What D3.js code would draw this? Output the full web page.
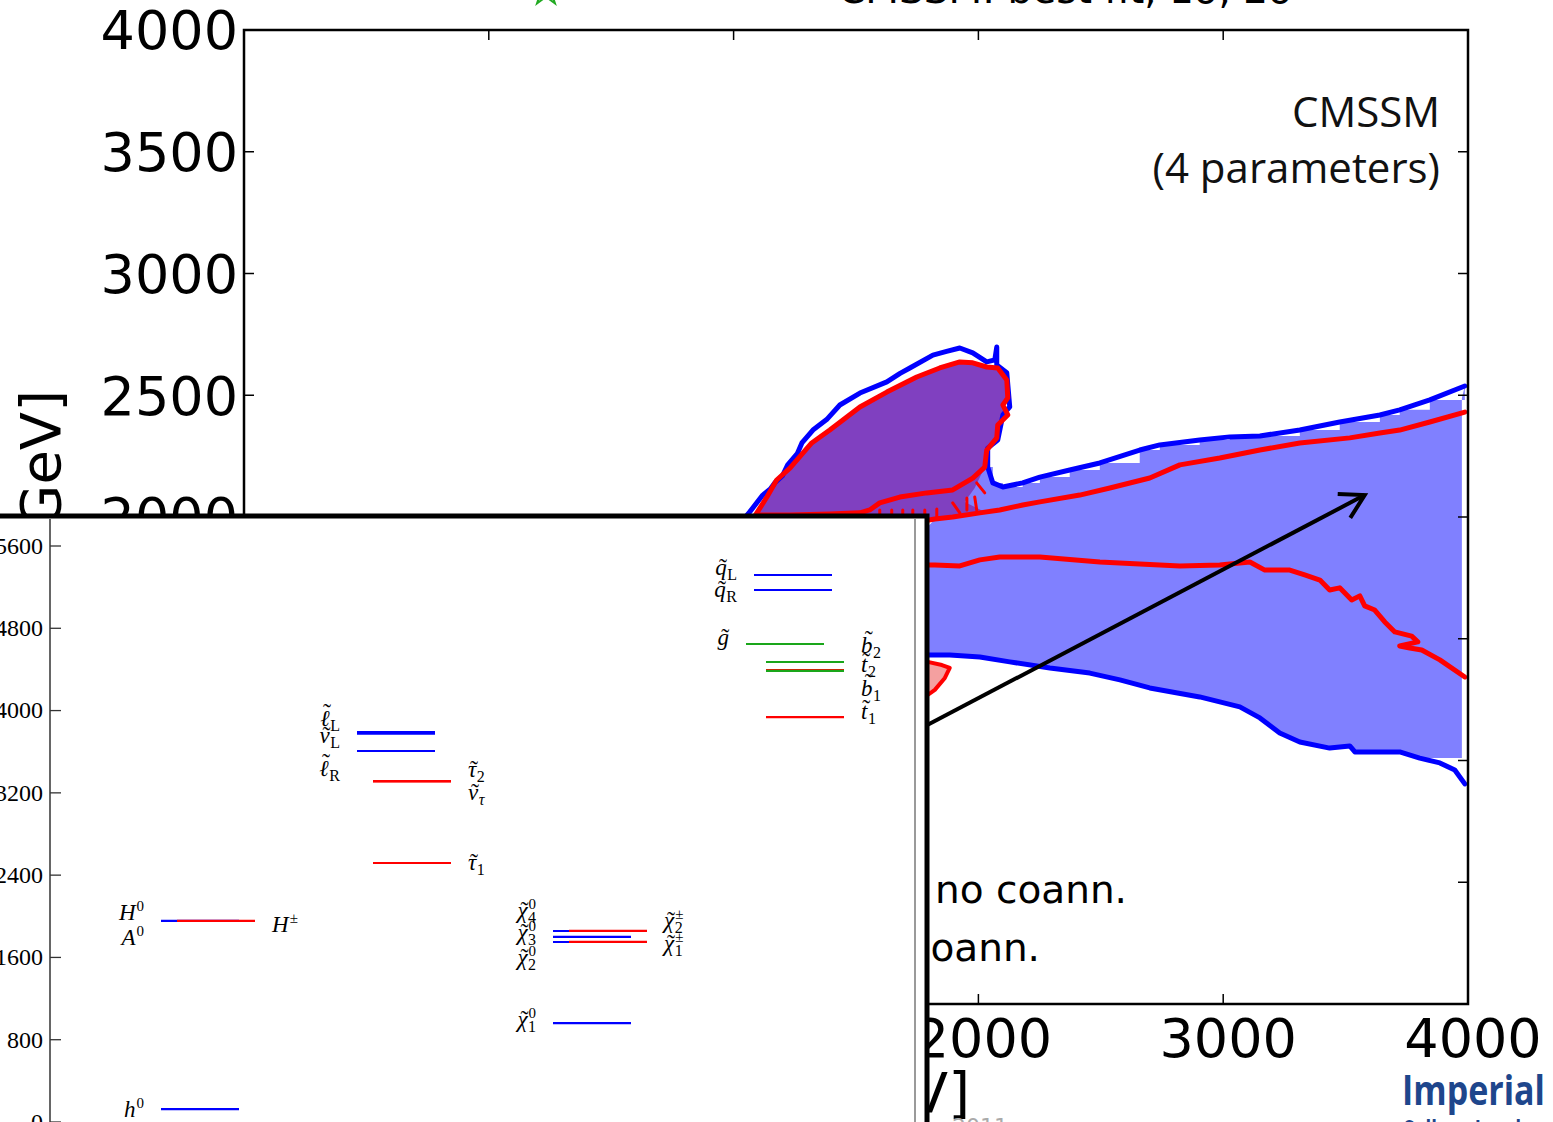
<!DOCTYPE html>
<html><head><meta charset="utf-8">
<script src="https://cdn.jsdelivr.net/npm/d3@7"></script>
<style>body{margin:0;background:#fff;overflow:hidden} svg{display:block}</style>
</head><body>
<svg id="c" width="1553" height="1122"></svg>
<script>
// ---------------- DATA (main plot, m0 / m1/2 in GeV) ----------------
const m0Ticks = [-1000, 0, 1000, 2000, 3000, 4000];
const m12Ticks = [0, 500, 1000, 1500, 2000, 2500, 3000, 3500, 4000];

// 2-sigma (blue) contour, upper branch incl. focus-point blob
const blueUp = [[944,1865],[1005,1947],[1066,2021],[1119,2090],[1150,2115],[1168,2140],[1200,2170],[1221,2214],[1260,2260],[1279,2304],[1324,2357],[1380,2400],[1434,2460],[1516,2509],[1626,2555],[1680,2590],[1720,2612],[1814,2665],[1870,2680],[1924,2694],[1977,2674],[2034,2637],[2067,2645],[2075,2698],[2075,2624],[2116,2592],[2128,2452],[2100,2419],[2079,2316],[2038,2283],[2038,2205],[2059,2140],[2100,2123],[2181,2140],[2251,2164],[2373,2193],[2496,2222],[2659,2275],[2741,2296],[2904,2316],[3027,2329],[3150,2333],[3313,2357],[3476,2390],[3640,2419],[3721,2440],[3844,2481],[3987,2538]];
// 2-sigma (blue) contour, lower branch
const blueLow = [[1761,1433],[1883,1433],[2006,1425],[2128,1405],[2292,1380],[2455,1359],[2578,1331],[2700,1298],[2904,1261],[3068,1220],[3150,1175],[3231,1113],[3313,1076],[3435,1051],[3517,1060],[3538,1035],[3721,1035],[3803,1010],[3885,990],[3946,961],[3987,904]];
// 1-sigma (red) contour around the blob
const redBlob = [[1025,1906],[1095,2017],[1136,2082],[1176,2152],[1230,2201],[1319,2304],[1393,2357],[1516,2452],[1626,2513],[1748,2575],[1842,2612],[1924,2637],[1977,2633],[2034,2616],[2079,2612],[2116,2563],[2120,2489],[2100,2460],[2120,2419],[2079,2378],[2075,2325],[2034,2275],[2026,2205],[1977,2160],[1895,2111],[1789,2099],[1679,2082],[1597,2058],[1556,2029],[1516,2017],[1393,2012],[1230,2008],[1095,2008]];
// 1-sigma (red) band, upper and middle lines
const redLow = [[1679,1967],[1822,1992],[1895,2000],[2006,2017],[2087,2029],[2181,2049],[2251,2062],[2414,2090],[2537,2119],[2700,2160],[2823,2214],[2986,2242],[3150,2275],[3313,2304],[3517,2325],[3640,2345],[3721,2357],[3844,2390],[3987,2431]];
const redMid = [[1761,1803],[1822,1803],[1924,1799],[2006,1824],[2087,1836],[2251,1836],[2496,1815],[2659,1807],[2823,1799],[2986,1803],[3109,1815],[3170,1782],[3272,1782],[3333,1762],[3395,1741],[3435,1700],[3476,1709],[3525,1659],[3558,1676],[3578,1635],[3619,1618],[3660,1569],[3701,1528],[3770,1511],[3795,1487],[3721,1470],[3762,1462],[3811,1454],[3885,1413],[3987,1343]];
// small 1-sigma island
const pinkBlob = [[1760,1405],[1793,1405],[1851,1392],[1883,1380],[1863,1339],[1822,1290],[1793,1269],[1760,1269]];
// contour hatch artefacts
const hatches = [[[1597,2029],[1597,2000]],[[1646,2029],[1646,2000]],[[1691,2029],[1691,2000]],[[1732,2029],[1732,2000]],[[1781,2029],[1781,2000]],[[1830,2033],[1830,2000]],[[1895,2058],[1924,2017]],[[1953,2078],[1953,2029]],[[1993,2140],[2026,2099]],[[1985,2082],[1993,2029]]];
// fill helpers (band closure and purple tail)
const bandClose = [[1720,1880],[1940,2120],[2060,2300]];
const bandRight = [[3975,2489],[3975,1010]];
const purpleTail = [[1985,2119],[1944,2062],[2026,2021],[1895,2000],[1801,1992],[1761,1906],[1025,1906]];
const arrowPts = [[1597,1043],[3578,2090]];

// ---------------- DATA (inset spectrum, GeV) ----------------
const massTicks = [0, 800, 1600, 2400, 3200, 4000, 4800, 5600];
const particleNames  = ['h0','H0','A0','Hpm','eL','nuL','eR','tau2','nutau','tau1','N4','N3','N2','N1','C2','C1','qL','qR','gl','b2','t2','b1','t1'];
const particleMasses = [126,1955,1954,1956,3790,3775,3607,3315,3312,2518,1857,1799,1750,962,1858,1751,5318,5172,4647,4472,4394,4385,3937];
const particleColumn = [0,0,0,0,1,1,1,1,1,1,2,2,2,2,2,2,3,3,3,3,3,3,3];

// ---------------- STYLE ----------------
const BLUE='#0000ff', RED='#ff0000', GREEN='#1aa61a';
const partStyle = {
  h0:{c:BLUE,k:'L',base:'h',sup:'0',dy:8}, H0:{c:BLUE,k:'L',base:'H',sup:'0',dy:-1}, A0:{c:BLUE,k:'L',base:'A',sup:'0',dy:24},
  Hpm:{c:RED,k:'R',base:'H',sup:'±',dy:11},
  eL:{c:BLUE,k:'L',base:'ℓ',t:2,sub:'L',dy:-6}, nuL:{c:BLUE,k:'L',base:'ν',t:1,sub:'L',dy:9}, eR:{c:BLUE,k:'L',base:'ℓ',t:2,sub:'R',dy:25},
  tau2:{c:RED,k:'R',base:'τ',t:1,sub:'2',dy:-4}, nutau:{c:RED,k:'R',base:'ν',t:1,sub:'τ',subI:1,dy:19}, tau1:{c:RED,k:'R',base:'τ',t:1,sub:'1',dy:7},
  N4:{c:BLUE,k:'L',base:'χ',t:1,sup:'0',sub:'4',dy:-13}, N3:{c:BLUE,k:'L',base:'χ',t:1,sup:'0',sub:'3',dy:3}, N2:{c:BLUE,k:'L',base:'χ',t:1,sup:'0',sub:'2',dy:23}, N1:{c:BLUE,k:'L',base:'χ',t:1,sup:'0',sub:'1',dy:4},
  C2:{c:RED,k:'R',base:'χ',t:1,sup:'±',sub:'2',dy:-3}, C1:{c:RED,k:'R',base:'χ',t:1,sup:'±',sub:'1',dy:9},
  qL:{c:BLUE,k:'L',base:'q',t:1,sub:'L',dy:0}, qR:{c:BLUE,k:'L',base:'q',t:1,sub:'R',dy:7},
  gl:{c:GREEN,k:'G',base:'g',t:1,dy:1},
  b2:{c:GREEN,k:'S',base:'b',t:2,sub:'2',dy:-9}, t2:{c:RED,k:'S',base:'t',t:3,sub:'2',dy:2}, b1:{c:GREEN,k:'S',base:'b',t:2,sub:'1',dy:25}, t1:{c:RED,k:'S',base:'t',t:3,sub:'1',dy:2}
};
const tildeLift = {1:0, 2:-6, 3:-3};
const colX = [161, 357, 553, 754];
const kindOff = {L:0, R:16, S:12, G:-8};
const LINE_LEN = 78;

const svg = d3.select('#c');
const x = d3.scaleLinear().domain([-1000,4000]).range([244,1468]);
const y = d3.scaleLinear().domain([0,4000]).range([1004,30]);
const P = d => [x(d[0]), y(d[1])];
const lineGen = d3.line().x(d=>x(d[0])).y(d=>y(d[1]));
const stepGen = d3.line().x(d=>x(d[0])).y(d=>y(d[1])).curve(d3.curveStepAfter);

const main = svg.append('g');

// --- fills ---
const iBand = blueUp.findIndex(d=>d[0]===2128 && d[1]===2452);
const bandTop = blueUp.slice(iBand);
const bandRest = bandRight.concat(blueLow.filter(d=>d[0]<=3803).slice().reverse(), bandClose);
main.append('path')
  .attr('d', stepGen(bandTop) + lineGen(bandRest).replace(/^M/,'L') + 'Z')
  .attr('fill','#8080ff');
const iTail = redBlob.findIndex(d=>d[0]===2026 && d[1]===2205);
const purple = redBlob.slice(1, iTail+1).concat(purpleTail);
main.append('path').attr('d', lineGen(purple)+'Z').attr('fill','#8040c0');
main.append('path').attr('d', lineGen(pinkBlob)+'Z').attr('fill','#f4a0a0');

// --- contour lines ---
const stroke = (data, col, w) => main.append('path').attr('d', lineGen(data))
  .attr('fill','none').attr('stroke',col).attr('stroke-width',w).attr('stroke-linejoin','round').attr('stroke-linecap','round');
stroke(blueUp, BLUE, 5);
stroke(blueLow, BLUE, 5);
stroke(redBlob, RED, 5);
stroke(redLow, RED, 5);
stroke(redMid, RED, 5);
stroke(pinkBlob.slice(1,7), RED, 4);
hatches.forEach(h => stroke(h, RED, 3));

// --- arrow ---
const a0 = P(arrowPts[0]), a1 = P(arrowPts[1]);
main.append('line').attr('x1',a0[0]).attr('y1',a0[1]).attr('x2',a1[0]).attr('y2',a1[1]).attr('stroke','#000').attr('stroke-width',4);
{
  const ang = Math.atan2(a0[1]-a1[1], a0[0]-a1[0]);
  const L = 27, sp = 30*Math.PI/180;
  const b1 = [a1[0]+L*Math.cos(ang-sp), a1[1]+L*Math.sin(ang-sp)];
  const b2 = [a1[0]+L*Math.cos(ang+sp), a1[1]+L*Math.sin(ang+sp)];
  main.append('path').attr('d',`M${b1}L${a1}L${b2}`).attr('fill','none').attr('stroke','#000').attr('stroke-width',4).attr('stroke-linejoin','miter');
}

// --- axes frame & ticks ---
main.append('rect').attr('x',x(-1000)).attr('y',y(4000)).attr('width',x(4000)-x(-1000)).attr('height',y(0)-y(4000))
  .attr('fill','none').attr('stroke','#000').attr('stroke-width',2.5);
const TL = 10;
m0Ticks.slice(1,-1).forEach(v => {
  main.append('line').attr('x1',x(v)).attr('x2',x(v)).attr('y1',y(4000)).attr('y2',y(4000)+TL).attr('stroke','#000').attr('stroke-width',1.5);
  main.append('line').attr('x1',x(v)).attr('x2',x(v)).attr('y1',y(0)).attr('y2',y(0)-TL).attr('stroke','#000').attr('stroke-width',1.5);
});
m12Ticks.slice(1,-1).forEach(v => {
  main.append('line').attr('y1',y(v)).attr('y2',y(v)).attr('x1',x(-1000)).attr('x2',x(-1000)+TL).attr('stroke','#000').attr('stroke-width',1.5);
  main.append('line').attr('y1',y(v)).attr('y2',y(v)).attr('x1',x(4000)).attr('x2',x(4000)-TL).attr('stroke','#000').attr('stroke-width',1.5);
});
const tickFont = '"DejaVu Sans", sans-serif';
m0Ticks.slice(1).forEach(v => {
  main.append('text').attr('x',x(v)+5).attr('y',1057).attr('text-anchor','middle')
    .style('font-family',tickFont).style('font-size','54px').text(v);
});
m12Ticks.forEach(v => {
  main.append('text').attr('x',238).attr('y',y(v)).attr('dy','0.36em').attr('text-anchor','end')
    .style('font-family',tickFont).style('font-size','54px').text(v);
});
// axis labels
const yl = main.append('text').attr('transform','translate(60,390) rotate(-90)').attr('text-anchor','end')
  .style('font-family',tickFont).style('font-size','56px');
yl.append('tspan').text('m');
yl.append('tspan').attr('dy',10).style('font-size','38px').text('1/2');
yl.append('tspan').attr('dy',-10).text(' [GeV]');
const xl = main.append('text').attr('x',970).attr('y',1112).attr('text-anchor','end')
  .style('font-family',tickFont).style('font-size','56px');
xl.append('tspan').text('m');
xl.append('tspan').attr('dy',10).style('font-size','38px').text('0');
xl.append('tspan').attr('dy',-10).text(' [GeV]');

// --- texts ---
main.append('text').attr('x',1440).attr('y',127).attr('text-anchor','end').style('font-family','"Open Sans", sans-serif').style('font-size','42px').attr('fill','#111').text('CMSSM');
main.append('text').attr('x',1440).attr('y',183).attr('text-anchor','end').style('font-family','"Open Sans", sans-serif').style('font-size','42px').attr('fill','#111').text('(4 parameters)');
main.append('text').attr('x',935).attr('y',903).style('font-family',tickFont).style('font-size','39px').text('no coann.');
main.append('text').attr('x',1040).attr('y',961).attr('text-anchor','end').style('font-family',tickFont).style('font-size','39px').text('τ coann.');
// top (cut) legend title
main.append('text').attr('x',838).attr('y',3).style('font-family',tickFont).style('font-size','39px').text('CMSSM: best fit, 1σ, 2σ');
main.append('path').attr('d', d3.symbol(d3.symbolStar, 260)()).attr('transform','translate(546,-9)')
  .attr('fill','none').attr('stroke','#22aa22').attr('stroke-width',2);

// ---------------- INSET ----------------
const ins = svg.append('g');
ins.append('rect').attr('x',-20).attr('y',516).attr('width',947).attr('height',700).attr('fill','#fff').attr('stroke','#000').attr('stroke-width',5);
const ym = d3.scaleLinear().domain([0,5600]).range([1122,546]);
ins.append('line').attr('x1',50).attr('x2',50).attr('y1',519).attr('y2',1125).attr('stroke','#333').attr('stroke-width',1.5);
ins.append('line').attr('x1',915).attr('x2',915).attr('y1',519).attr('y2',1125).attr('stroke','#9a9a9a').attr('stroke-width',2);
massTicks.forEach(v => {
  ins.append('line').attr('x1',50).attr('x2',61).attr('y1',ym(v)).attr('y2',ym(v)).attr('stroke','#333').attr('stroke-width',1.3);
  ins.append('text').attr('x',43).attr('y',ym(v)).attr('dy','0.33em').attr('text-anchor','end')
    .style('font-family','"Liberation Serif", serif').style('font-size','24px').style('font-variant-numeric','oldstyle-nums').text(v);
});
const serif = '"Liberation Serif", "DejaVu Serif", serif';
function drawLabel(st, ax, yb, side){
  const grp = ins.append('g');
  const t = grp.append('text').attr('x',0).attr('y',0).style('font-family',serif).style('font-style','italic').style('font-size','23px')
    .text(st.base);
  const w = t.node().getComputedTextLength();
  if (st.t){
    grp.append('text').attr('x', w*0.5+2).attr('y', tildeLift[st.t]).attr('text-anchor','middle')
      .style('font-family',serif).style('font-size','24px').text('\u02DC');
  }
  let extra = 0;
  if (st.sup){
    const s = grp.append('text').attr('x',w+1).attr('y',-9).style('font-family',serif).style('font-size','15px').text(st.sup);
    extra = Math.max(extra, s.node().getComputedTextLength()+1);
  }
  if (st.sub){
    const s = grp.append('text').attr('x',w+0.5).attr('y',5).style('font-family',serif).style('font-size','16px')
      .style('font-style', st.subI ? 'italic' : 'normal').text(st.sub);
    extra = Math.max(extra, s.node().getComputedTextLength()+0.5);
  }
  const tot = w + extra;
  grp.attr('transform',`translate(${side==='L' ? ax - tot : ax},${yb})`);
}
particleNames.forEach((n,i) => {
  const st = partStyle[n];
  const x0 = colX[particleColumn[i]] + kindOff[st.k];
  const yy = ym(particleMasses[i]);
  ins.append('line').attr('x1',x0).attr('x2',x0+LINE_LEN).attr('y1',yy).attr('y2',yy).attr('stroke',st.c).attr('stroke-width',2.2);
  if (st.k==='R' || st.k==='S') drawLabel(st, x0+LINE_LEN+17, yy+st.dy, 'R');
  else drawLabel(st, x0-17, yy+st.dy, 'L');
});

// ---------------- corner decorations ----------------
svg.append('text').attr('x',1402).attr('y',1105).attr('textLength',143).attr('lengthAdjust','spacingAndGlyphs')
  .style('font-family','"Open Sans", sans-serif').style('font-weight','700').style('font-size','42px').attr('fill','#1e468c').text('Imperial');
svg.append('text').attr('x',1402).attr('y',1142).attr('textLength',143).attr('lengthAdjust','spacingAndGlyphs')
  .style('font-family','"Open Sans", sans-serif').style('font-weight','700').style('font-size','30px').attr('fill','#1e468c').text('College London');
svg.append('text').attr('x',952).attr('y',1134).style('font-family',tickFont).style('font-size','22px').attr('fill','#aaa').text('2011');
</script>
</body></html>
